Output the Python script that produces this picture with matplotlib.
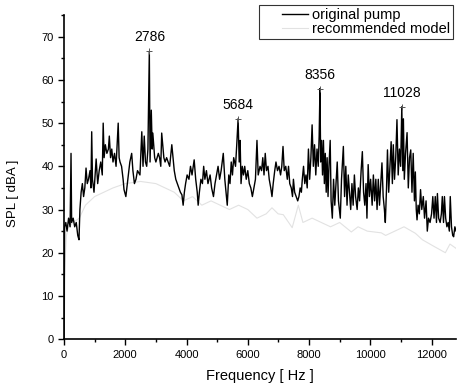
import numpy as np
import matplotlib
matplotlib.use("Agg")
import matplotlib.pyplot as plt
from matplotlib.ticker import MultipleLocator
from matplotlib.legend_handler import HandlerLine2D

plt.rcParams['font.family'] = ['Liberation Sans', 'DejaVu Sans']

# original pump spectrum
orig_freq = [
    0, 10, 20, 60, 100, 150, 200, 230, 250, 300, 350, 400, 450, 490, 520, 560,
    600, 640, 680, 720, 760, 800, 850, 880, 905, 930, 980, 1050, 1100, 1150,
    1200, 1250, 1280, 1310, 1350, 1400, 1450, 1480, 1520, 1560, 1600, 1650,
    1700, 1770, 1800, 1830, 1880, 1930, 1960, 2020, 2070, 2100, 2150, 2210,
    2250, 2300, 2350, 2400, 2480, 2540, 2580, 2620, 2660, 2700, 2740, 2786,
    2810, 2850, 2880, 2900, 2960, 3000, 3040, 3080, 3120, 3160, 3190, 3260,
    3300, 3350, 3400, 3450, 3520, 3573, 3600, 3650, 3700, 3750, 3800, 3850,
    3890, 3930, 3970, 4020, 4080, 4130, 4180, 4250, 4300, 4350, 4380, 4420,
    4470, 4520, 4560, 4600, 4650, 4700, 4770, 4820, 4880, 4930, 4980, 5030,
    5080, 5130, 5200, 5250, 5290, 5330, 5380, 5420, 5460, 5500, 5540, 5600,
    5640, 5684, 5720, 5750, 5780, 5820, 5860, 5900, 5950, 6000, 6050, 6100,
    6150, 6200, 6250, 6300, 6340, 6400, 6450, 6490, 6530, 6570, 6610, 6660,
    6700, 6750, 6790, 6830, 6880, 6920, 6970, 7020, 7070, 7110, 7150, 7190,
    7240, 7290, 7330, 7370, 7420, 7460, 7490, 7530, 7580, 7630, 7670, 7710,
    7750, 7780, 7820, 7860, 7900, 7940, 7980, 8020, 8060, 8100, 8140, 8180,
    8220, 8260, 8300, 8330, 8356, 8380, 8410, 8440, 8470, 8500, 8530, 8560,
    8590, 8620, 8650, 8690, 8720, 8760, 8800, 8840, 8880, 8920, 8960, 9020,
    9060, 9120, 9160, 9200, 9240, 9280, 9320, 9360, 9400, 9440, 9480, 9520,
    9570, 9610, 9650, 9700, 9740, 9780, 9820, 9860, 9890, 9930, 9970, 10010,
    10060, 10100, 10140, 10180, 10220, 10260, 10300, 10340, 10380, 10420,
    10460, 10490, 10530, 10560, 10600, 10640, 10680, 10720, 10750, 10790,
    10830, 10870, 10910, 10950, 10990, 11028, 11060, 11080, 11110, 11150,
    11200, 11240, 11280, 11320, 11360, 11400, 11440, 11470, 11500, 11525,
    11560, 11600, 11640, 11680, 11730, 11770, 11820, 11860, 11900, 11950,
    12000, 12040, 12080, 12120, 12160, 12190, 12230, 12280, 12320, 12350,
    12390, 12420, 12460, 12500, 12540, 12580, 12610, 12650, 12690, 12720,
    12760, 12800,
]
orig_spl = [
    0, 14, 26, 27, 25, 28, 26, 43, 27, 28, 26, 27, 24, 23, 30, 34,
    36, 33, 35, 39.6, 36, 37, 39, 35, 48, 37, 34, 41.7, 36, 39,
    41, 38, 50, 42, 45, 43, 44, 47, 42, 44, 41, 43,
    40, 50, 42, 41, 40, 37, 34.6, 33, 36, 38, 41, 43,
    39, 36, 37, 39, 38, 48, 40, 47, 41, 40, 44, 66.6,
    41, 53, 44, 47.7, 42, 41, 42, 43, 42, 40, 47.7, 42,
    41, 42, 41, 40, 45, 41, 39, 37, 36, 35, 34, 33.4,
    31, 34, 36, 38, 37, 40, 38, 41.5, 37, 34, 31, 34,
    37, 36, 40, 37, 39, 36, 38, 35, 33, 36, 38, 40,
    37, 39, 43, 37, 34, 31, 38, 36, 41, 38, 42, 40,
    45, 51, 41, 46, 36, 40, 38, 40, 37, 39, 36, 35,
    33, 35, 37, 46, 38, 40, 39, 42, 38, 43, 39, 40,
    37, 35, 33, 36, 39, 41, 39, 40, 38, 40, 44.6, 39,
    40, 37, 40, 36, 35, 33, 37, 34, 33, 32, 33, 35,
    34, 37, 40, 36, 38, 35, 44, 37, 42, 49.6, 40, 45,
    38, 44, 40, 47, 58, 41, 46, 38, 46, 36, 43, 34,
    42, 33, 40, 46, 32, 28, 37, 31, 36, 41, 32, 28,
    37, 44.6, 33, 40, 31, 38, 34, 30, 36, 31, 38, 33,
    30, 35, 32, 39, 43.4, 34, 31, 36, 28, 40.4, 33, 37,
    31, 38, 32, 37, 30, 37, 31, 36, 40.8, 33,
    30, 27, 35, 43.8, 34, 40, 45.7, 36, 45, 37,
    42, 50.8, 38, 44, 40, 53.8, 39, 51, 37, 43,
    47.8, 35, 42, 43.8, 34, 43, 32, 38.7, 30, 27.6,
    31, 29, 34.6, 30, 33, 28, 32, 25, 28, 27,
    29, 33, 28, 33, 27, 33.7, 28, 27, 29, 33,
    27, 33, 28, 26, 27, 25, 33, 26, 24, 23.7,
    26, 25,
]

# recommended model spectrum (very faint in the scan)
rec_freq = [
    0, 15, 30, 50, 80, 150, 300, 500, 700, 1000, 1300, 1600, 2000, 2500,
    3000, 3300, 3600, 3900, 4200, 4500, 4800, 5100, 5400, 5700, 6000, 6300,
    6600, 6790, 6990, 7160, 7450, 7650, 7800, 8100, 8400, 8700, 9000, 9380,
    9600, 9900, 10360, 10500, 10800, 11100, 11470, 11700, 12120, 12450,
    12600, 12800,
]
rec_spl = [
    0, 5, 12, 20, 24, 26, 27, 28, 31, 33, 34, 35, 36, 36.5,
    36, 35, 34, 32, 33, 31, 32, 31, 30, 31, 30, 28,
    29, 30.4, 29, 28.8, 25.8, 31, 27, 28, 27, 26, 27, 24.8,
    26, 25, 24.6, 24, 25, 26, 24.5, 23, 21.3, 20,
    22, 21,
]

peak_freqs = [2786, 5684, 8356, 11028]


class ShortHandle(HandlerLine2D):
    # legend line drawn only over the right part of the handle box
    def create_artists(self, legend, orig_handle, xdescent, ydescent,
                       width, height, fontsize, trans):
        artists = super().create_artists(legend, orig_handle, xdescent, ydescent,
                                         width, height, fontsize, trans)
        for a in artists:
            xd = np.asarray(a.get_xdata(), dtype=float)
            if len(xd) >= 2:
                a.set_xdata(np.linspace(xd[0] + 0.44 * (xd[-1] - xd[0]), xd[-1], len(xd)))
        return artists


fig = plt.figure(figsize=(4.57, 3.88), dpi=100)
ax = fig.add_axes([0.140, 0.126, 0.858, 0.835])

ax.plot(orig_freq, orig_spl, color='black', lw=1.0, zorder=3, label='original pump')
ax.plot(rec_freq, rec_spl, color='#e2e2e2', lw=0.8, zorder=2, label='recommended model')

# peak markers and labels
for f in peak_freqs:
    lvl = orig_spl[orig_freq.index(f)]
    ax.plot([f], [lvl], marker='+', color='#555555', ms=4, mew=0.7, zorder=4)
    ax.annotate(str(f), xy=(f, lvl), xytext=(0, 5), textcoords='offset points',
                ha='center', va='bottom', fontsize=10)

ax.set_xlim(0, 12800)
ax.set_ylim(0, 75)
ax.xaxis.set_major_locator(MultipleLocator(2000))
ax.xaxis.set_minor_locator(MultipleLocator(1000))
ax.yaxis.set_minor_locator(MultipleLocator(5))
ax.set_yticks(range(0, 71, 10))
ax.tick_params(which='major', length=4, width=1, labelsize=8)
ax.tick_params(which='minor', length=2.5, width=1)
ax.spines['top'].set_visible(False)
ax.spines['right'].set_visible(False)
ax.spines['left'].set_linewidth(1.2)
ax.spines['bottom'].set_linewidth(1.2)

ax.set_xlabel('Frequency [ Hz ]', fontsize=10.5, labelpad=7)
ax.set_ylabel('SPL [ dBA ]', fontsize=9.5)
ax.yaxis.set_label_coords(-0.115, 0.45)

leg = ax.legend(loc='upper right', bbox_to_anchor=(0.992, 1.031), fontsize=10.5,
                frameon=True, fancybox=False, edgecolor='black',
                handlelength=3.1, borderpad=0.2, labelspacing=0.0,
                handletextpad=0.3, borderaxespad=0.0,
                handler_map={plt.Line2D: ShortHandle()})
leg.get_frame().set_linewidth(0.8)

fig.savefig('out.png', dpi=100)
